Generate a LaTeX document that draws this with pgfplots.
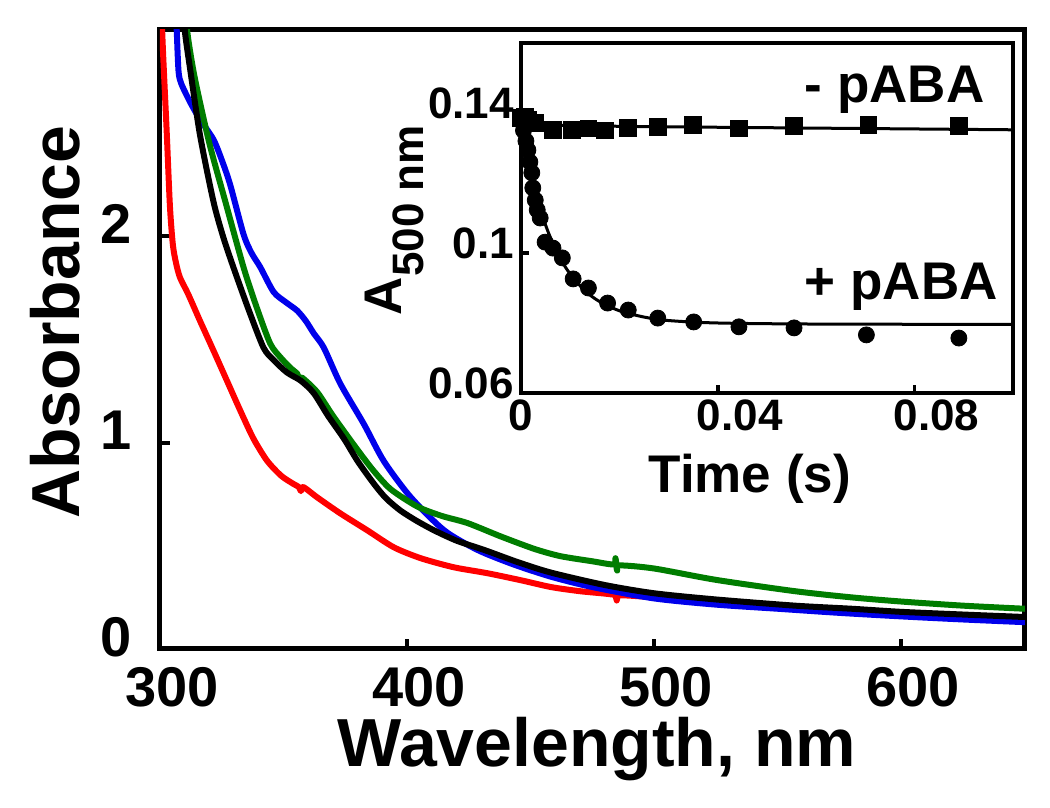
\documentclass[border=0pt]{standalone}
\usepackage{fontspec}
\setmainfont{Liberation Sans}
\usepackage{pgfplots}
\pgfplotsset{compat=1.18}
\definecolor{cred}{RGB}{255,0,0}
\definecolor{cblue}{RGB}{0,0,235}
\definecolor{cgreen}{RGB}{0,125,0}
\begin{document}
\begin{tikzpicture}
\path (-80pt,-79.5pt) rectangle (445pt,324.5pt);
\begin{axis}[
  name=main,
  at={(0pt,0pt)}, anchor=south west,
  width=432.5pt, height=309.5pt, scale only axis,
  xmin=300, xmax=650, ymin=0, ymax=3,
  xtick={300,400,500,600}, xticklabels={300,400,500,600},
  ytick={0,1,2}, yticklabels={0,1,2},
  /pgf/number format/assume math mode=true,
  tick align=inside, xtick pos=left, ytick pos=left,
  major tick length=5pt,
  axis line style={line width=2.5pt},
  every tick/.style={line width=2pt, black},
  tick label style={font=\fontsize{28}{30}\selectfont\bfseries},
  xticklabel style={inner sep=0pt, xshift=6pt, yshift=-9pt},
  yticklabel style={inner sep=0pt, xshift=-14pt, yshift=6pt},
  xlabel={Wavelength, nm},
  ylabel={Absorbance},
  label style={font=\fontsize{34}{36}\selectfont\bfseries},
  xlabel style={at={(axis description cs:0.505,-0.1906)}, anchor=base},
  ylabel style={at={(axis description cs:-0.1214,0.528)}, anchor=center},
]
\addplot[cred, line width=3pt, smooth, tension=0.45, line join=round] coordinates {
(300.4,3.15) (301.2,2.90) (302.7,2.51) (304.0,2.15) (305.2,1.96) (306.5,1.87) (308.1,1.80)
(311.4,1.72) (316.2,1.59) (321.5,1.45) (327.1,1.30) (332.5,1.155) (337.8,1.02)
(343.3,0.913) (349,0.84) (354,0.80) (356.2,0.785) (357,0.765) (358,0.785) (363.6,0.735)
(373,0.657) (383.9,0.575) (394.6,0.493) (405.5,0.44) (418.9,0.396) (432.6,0.367)
(446.1,0.333) (458.3,0.30) (470,0.28) (484,0.262) (484.8,0.235) (485.6,0.26)
(500,0.25) (525,0.225) (550,0.205) (575,0.19) (600,0.175) (625,0.163) (650,0.152)
};
\addplot[cblue, line width=3pt, smooth, tension=0.45, line join=round] coordinates {
(306.5,3.1) (306.8,2.99) (307.5,2.80) (308.6,2.74) (312.2,2.65) (316,2.57) (321.6,2.47)
(325,2.37) (328.4,2.25) (333.8,2.01) (337,1.92) (340.6,1.85) (346,1.73) (351,1.68) (355.5,1.64)
(359,1.59) (362.2,1.53) (366.3,1.46) (373,1.285) (382.5,1.09) (390.6,0.91) (401.5,0.735)
(415,0.575) (428.5,0.48) (443,0.41) (458.3,0.35) (475,0.30) (500,0.245)
(525,0.215) (550,0.195) (575,0.175) (600,0.158) (625,0.143) (650,0.13)
};
\addplot[cgreen, line width=3pt, smooth, tension=0.45, line join=round] coordinates {
(310.0,3.1) (311.5,2.95) (314.2,2.76) (320,2.45) (326.4,2.17) (333.8,1.85)
(339,1.66) (344.6,1.48) (349,1.41) (353,1.36) (355.5,1.335) (356.3,1.31) (357.5,1.315)
(363.6,1.245) (370,1.13) (378.4,0.99) (386,0.87) (393.3,0.775) (404.2,0.69)
(414,0.645) (424.5,0.61) (438,0.545) (451.5,0.485) (462,0.45) (475,0.425)
(483.5,0.41) (484.3,0.44) (485,0.38) (485.8,0.405) (500,0.39) (525,0.335)
(557,0.28) (580,0.25) (600,0.23) (625,0.21) (650,0.195)
};
\addplot[black, line width=3pt, smooth, tension=0.45, line join=round] coordinates {
(309.8,3.1) (310.1,2.99) (312.2,2.81) (316.2,2.49) (321.6,2.17) (325.5,2.0) (329.7,1.85)
(336,1.64) (341.9,1.46) (346,1.40) (351.4,1.34) (357,1.30) (362.2,1.24) (368,1.13) (374.4,1.02)
(380,0.91) (386.6,0.80) (391.5,0.73) (397.4,0.67) (404,0.62) (410.9,0.575) (420,0.525) (431.2,0.48)
(445,0.42) (458.3,0.37) (480,0.31) (500,0.27) (525,0.24) (557,0.21)
(580,0.195) (600,0.18) (625,0.167) (650,0.155)
};
\end{axis}
\begin{axis}[
  at={(180.5pt,128pt)}, anchor=south west,
  width=246pt, height=175pt, scale only axis,
  xmin=0, xmax=0.1, ymin=0.06, ymax=0.16,
  clip=false,
  axis background/.style={fill=white},
  xtick={0,0.04,0.08}, xticklabels={{0},{\hspace*{22pt}0.04},{\hspace*{22pt}0.08}},
  ytick={0.06,0.1,0.14}, yticklabels={0.06,0.1,0.14},
  /pgf/number format/assume math mode=true,
  tick align=inside, xtick pos=left, ytick pos=left,
  major tick length=4pt,
  axis line style={line width=2pt},
  every tick/.style={line width=1.8pt, black},
  tick label style={font=\fontsize{22}{24}\selectfont\bfseries},
  yticklabel style={yshift=5pt},
  xlabel={Time (s)},
  ylabel={A\raisebox{-11pt}{\fontsize{22}{24}\selectfont 500 nm}},
  label style={font=\fontsize{26.5}{28}\selectfont\bfseries},
  xlabel style={at={(axis description cs:0.465,-0.283)}, anchor=base},
  ylabel style={at={(axis description cs:-0.258,0.494)}, anchor=center},
]
\addplot[black, line width=1.5pt, smooth] coordinates {
(0,0.1385) (0.002,0.1372) (0.005,0.1366) (0.02,0.1362) (0.05,0.1358) (0.1,0.1352)
};
\addplot[black, line width=1.5pt, smooth] coordinates {
(0,0.136) (0.001,0.130) (0.002,0.1224) (0.004,0.1121) (0.006,0.1043) (0.008,0.0984)
(0.010,0.0940) (0.013,0.0892) (0.016,0.0861) (0.020,0.0835) (0.025,0.0817)
(0.030,0.0807) (0.040,0.0800) (0.060,0.0797) (0.100,0.0796)
};
\addplot[only marks, mark=square*, mark size=4.2pt, black] coordinates {
(0.0000,0.1385) (0.0008,0.1390) (0.0015,0.1380) (0.0029,0.1372) (0.0065,0.1352)
(0.0104,0.1352) (0.0137,0.1356) (0.0171,0.1350) (0.0218,0.1357) (0.0278,0.1360)
(0.0349,0.1365) (0.0443,0.1356) (0.0555,0.1363) (0.0706,0.1366) (0.0890,0.1363)
};
\addplot[only marks, mark=*, mark size=4pt, black] coordinates {
(0.0000,0.1380) (0.0005,0.1350) (0.0010,0.1320) (0.0014,0.1294) (0.0018,0.1260)
(0.0022,0.1229) (0.0024,0.1186) (0.0029,0.1151) (0.0033,0.1123) (0.0039,0.1100)
(0.0049,0.1031) (0.0065,0.1014) (0.0084,0.0986) (0.0106,0.0926) (0.0137,0.0900)
(0.0176,0.0857) (0.0218,0.0837) (0.0278,0.0814) (0.0351,0.0803) (0.0443,0.0789)
(0.0555,0.0786) (0.0702,0.0766) (0.0890,0.0757)
};
\node[anchor=base east, inner sep=0pt, font=\fontsize{26.5}{28}\selectfont\bfseries] at (rel axis cs:0.943,0.829) {- pABA};
\node[anchor=base east, inner sep=0pt, font=\fontsize{26.5}{28}\selectfont\bfseries] at (rel axis cs:0.97,0.266) {+ pABA};
\end{axis}
\end{tikzpicture}
\end{document}
